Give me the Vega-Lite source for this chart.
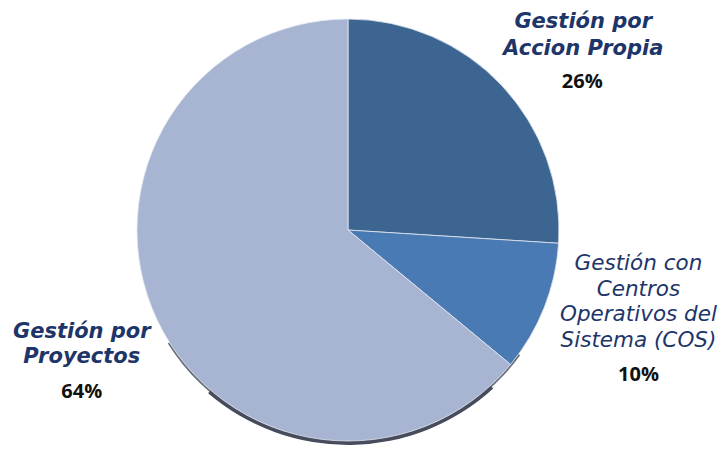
{
  "$schema": "https://vega.github.io/schema/vega-lite/v6.json",
  "width": 696,
  "height": 442,
  "autosize": {"type": "none"},
  "padding": {"left": 0, "top": 9, "right": 29, "bottom": 0},
  "background": "white",
  "config": {"view": {"stroke": null}},
  "data": {
    "values": [
      {"cat": "A", "label": "Gestión por\nAccion Propia", "pct": "26%", "value": 26, "ord": 1},
      {"cat": "B", "label": "Gestión con\nCentros\nOperativos del\nSistema (COS)", "pct": "10%", "value": 10, "ord": 2},
      {"cat": "C", "label": "Gestión por\nProyectos", "pct": "64%", "value": 64, "ord": 3}
    ]
  },
  "layer": [
    {
      "data": {"values": [{"s": 1}]},
      "mark": {"type": "arc", "theta": 2.2, "theta2": 4.15, "radius": 213, "radius2": 200, "color": "#6a6f7e"},
      "encoding": {}
    },
    {
      "data": {"values": [{"s": 1}]},
      "mark": {"type": "arc", "theta": 2.4, "theta2": 3.85, "radius": 215, "radius2": 200, "color": "#474c5c"},
      "encoding": {}
    },
    {
      "mark": {"type": "arc", "outerRadius": 211, "stroke": "#e4e8f0", "strokeWidth": 0.8},
      "encoding": {
        "theta": {"field": "value", "type": "quantitative", "stack": true},
        "order": {"field": "ord", "type": "quantitative"},
        "color": {"field": "cat", "type": "nominal", "scale": {"domain": ["A", "B", "C"], "range": ["#3d6591", "#4a7ab4", "#a8b5d2"]}, "legend": null}
      }
    },
    {
      "mark": {"type": "text", "radius": 250, "dx": 53, "dy": -37, "font": "DejaVu Sans", "fontSize": 21, "fontWeight": "bold", "fontStyle": "italic", "color": "#1e3569", "lineBreak": "\n", "lineHeight": 27, "align": "center", "baseline": "middle"},
      "encoding": {
        "theta": {"field": "value", "type": "quantitative", "stack": true},
        "order": {"field": "ord", "type": "quantitative"},
        "text": {"condition": {"test": "datum.cat === 'A'", "field": "label"}, "value": ""}
      }
    },
    {
      "mark": {"type": "text", "radius": 250, "dx": 52, "dy": 23, "font": "Open Sans", "fontSize": 20, "fontWeight": "bold", "color": "#111111", "align": "center", "baseline": "middle"},
      "encoding": {
        "theta": {"field": "value", "type": "quantitative", "stack": true},
        "order": {"field": "ord", "type": "quantitative"},
        "text": {"condition": {"test": "datum.cat === 'A'", "field": "pct"}, "value": ""}
      }
    },
    {
      "mark": {"type": "text", "radius": 250, "dx": 58, "dy": -58, "font": "DejaVu Sans", "fontSize": 21.5, "fontStyle": "italic", "color": "#1e3569", "lineBreak": "\n", "lineHeight": 25.5, "align": "center", "baseline": "middle"},
      "encoding": {
        "theta": {"field": "value", "type": "quantitative", "stack": true},
        "order": {"field": "ord", "type": "quantitative"},
        "text": {"condition": {"test": "datum.cat === 'B'", "field": "label"}, "value": ""}
      }
    },
    {
      "mark": {"type": "text", "radius": 250, "dx": 58, "dy": 53, "font": "Open Sans", "fontSize": 20, "fontWeight": "bold", "color": "#111111", "align": "center", "baseline": "middle"},
      "encoding": {
        "theta": {"field": "value", "type": "quantitative", "stack": true},
        "order": {"field": "ord", "type": "quantitative"},
        "text": {"condition": {"test": "datum.cat === 'B'", "field": "pct"}, "value": ""}
      }
    },
    {
      "mark": {"type": "text", "radius": 250, "dx": -40, "dy": -4, "font": "DejaVu Sans", "fontSize": 21, "fontWeight": "bold", "fontStyle": "italic", "color": "#1e3569", "lineBreak": "\n", "lineHeight": 25, "align": "center", "baseline": "middle"},
      "encoding": {
        "theta": {"field": "value", "type": "quantitative", "stack": true},
        "order": {"field": "ord", "type": "quantitative"},
        "text": {"condition": {"test": "datum.cat === 'C'", "field": "label"}, "value": ""}
      }
    },
    {
      "mark": {"type": "text", "radius": 250, "dx": -40, "dy": 56, "font": "Open Sans", "fontSize": 20, "fontWeight": "bold", "color": "#111111", "align": "center", "baseline": "middle"},
      "encoding": {
        "theta": {"field": "value", "type": "quantitative", "stack": true},
        "order": {"field": "ord", "type": "quantitative"},
        "text": {"condition": {"test": "datum.cat === 'C'", "field": "pct"}, "value": ""}
      }
    }
  ]
}
